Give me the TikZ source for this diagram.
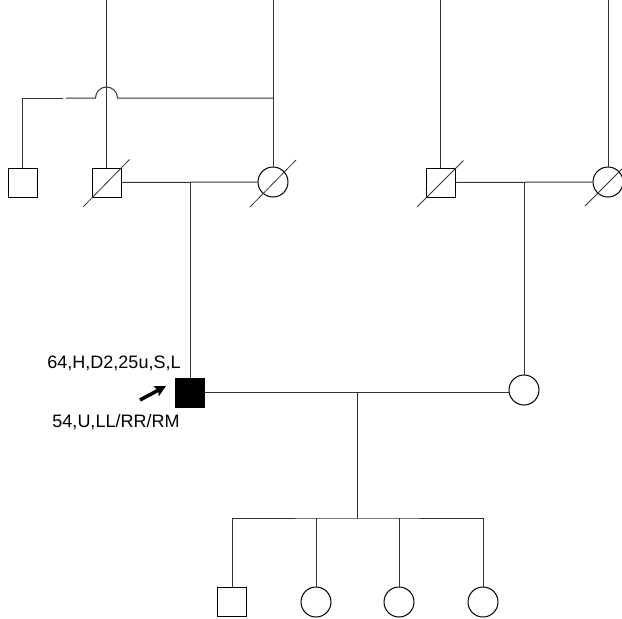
\documentclass[tikz,border=0pt]{standalone}
\usepackage{fontspec}
\setmainfont{Liberation Sans}
\usetikzlibrary{arrows.meta,calc}
\begin{document}
\begin{tikzpicture}[x=1pt,y=-1pt,
  line width=1pt,
  conn/.style={draw=black!80},
  male/.style={draw=black, rectangle, minimum size=29pt, inner sep=0pt, line width=1pt},
  female/.style={draw=black, circle, minimum size=30pt, inner sep=0pt, line width=1pt},
  affected/.style={fill=black},
  deadslash/.style={draw=black!80, line width=0.8pt},
  lbl/.style={font=\fontsize{18}{20}\selectfont, anchor=base, inner sep=0pt}
]
\useasboundingbox (0,0) rectangle (622,619);
% generation I (left)
\node[male] (a1) at (22.5,182.5) {};
\node[male] (a2) at (106.5,182.5) {};
\node[female] (a3) at (273,182) {};
% generation I (right)
\node[male] (b1) at (440.5,182.5) {};
\node[female] (b2) at (608,182) {};
% generation II
\node[male,affected] (p) at (190,392.5) {};
\node[female] (s) at (524,390) {};
% generation III
\node[male] (c1) at (232,602) {};
\node[female] (c2) at (316,602) {};
\node[female] (c3) at (399,602) {};
\node[female] (c4) at (483,602) {};
% coordinates
\coordinate (top2) at (106.5,0);
\coordinate (top3) at (273,0);
\coordinate (topb1) at (440.5,0);
\coordinate (topb2) at (608,0);
\coordinate (h1) at (273,98);
\coordinate (h2) at (22.5,98);
\coordinate (ma) at (190,182);
\coordinate (mb) at (524,182);
\coordinate (mp) at (357,392);
\coordinate (sib) at (357,518);
% lines to top
\draw[conn] (a2.north) -- (top2);
\draw[conn] (a3.north) -- (top3);
\draw[conn] (b1.north) -- (topb1);
\draw[conn] (b2.north) -- (topb2);
% line with hop and gap
\draw[conn] (h1) -- (117.5,98) arc[start angle=0,end angle=-180,radius=11] -- (66,98);
\draw[conn] (63,98) -- (h2) -- (a1.north);
% marriages
\draw[conn] (a2.east) -- (a3.west);
\draw[conn] (ma) -- (p.north);
\draw[conn] (b1.east) -- (b2.west);
\draw[conn] (mb) -- (s.north);
\draw[conn] (p.east) -- (s.west |- p.east);
\draw[conn] (mp) -- (sib);
\draw[conn] (c1.north) |- (sib) -| (c4.north);
\draw[conn] (c2.north) -- (c2.north |- sib);
\draw[conn] (c3.north) -- (c3.north |- sib);
% deceased slashes
\draw[deadslash] ($(a2)+(-23,24)$) -- ($(a2)+(23,-23)$);
\draw[deadslash] ($(a3)+(-23,25)$) -- ($(a3)+(23,-22)$);
\draw[deadslash] ($(b1)+(-23,24)$) -- ($(b1)+(23,-22)$);
\draw[deadslash] ($(b2)+(-23,24)$) -- ($(b2)+(23,-22)$);
% proband arrow and labels
\coordinate (at) at (140,400);
\coordinate (ah) at (166,386);
\draw[line width=3.5pt,-{Stealth[length=11pt,width=11pt,inset=2pt]}] (at) -- (ah);
\node[lbl] (t1) at (114,368) {64,H,D2,25u,S,L};
\node[lbl] (t2) at (116,427) {54,U,LL/RR/RM};
\end{tikzpicture}
\end{document}
